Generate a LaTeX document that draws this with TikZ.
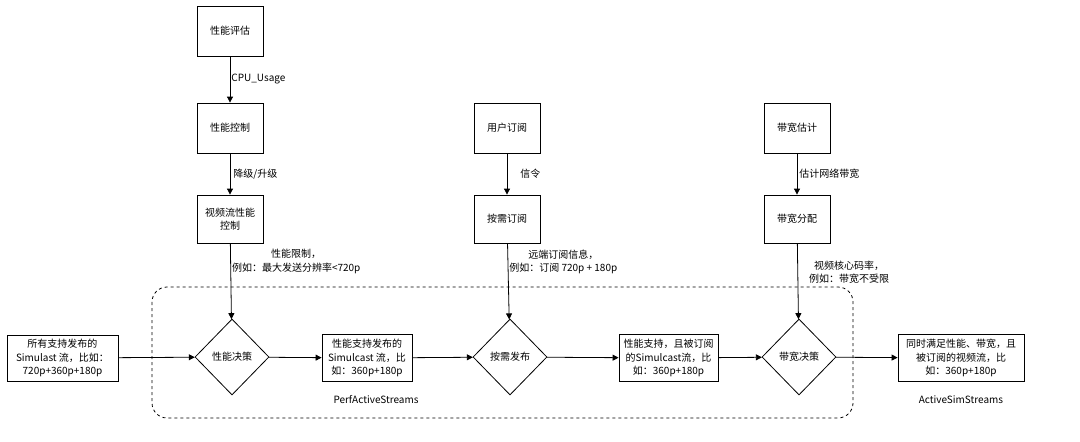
\documentclass[tikz,border=0pt]{standalone}
\usepackage{fontspec}
\setmainfont{Noto Sans CJK SC}
\usetikzlibrary{shapes.geometric,arrows.meta}
\begin{document}
\begin{tikzpicture}[x=1pt,y=-1pt,
  every node/.style={font=\fontsize{10}{13.5}\selectfont},
  box/.style={draw,thick,minimum width=66pt,minimum height=50pt,inner sep=1pt,align=center},
  wbox/.style={draw,thick,inner sep=1pt,align=center},
  dia/.style={draw,thick,diamond,minimum width=74pt,minimum height=76pt,inner sep=0pt,aspect=1},
  arr/.style={thick,-{Triangle[length=6pt,width=6pt]}},
  lbl/.style={fill=white,inner sep=1pt,align=center}]
\useasboundingbox (0,0) rectangle (1080,442);
\draw[thick,dashed,rounded corners=15pt] (152,287) rectangle (853,418);
\node[box] (pe) at (230,31) {性能评估};
\node[box] (pc) at (230,128) {性能控制};
\node[box,minimum height=48pt] (vc) at (230,219) {视频流性能\\控制};
\node[box] (us) at (507,128) {用户订阅};
\node[box,minimum height=48pt] (od) at (507,219) {按需订阅};
\node[box] (be) at (797,128) {带宽估计};
\node[box,minimum height=48pt] (ba) at (797,219) {带宽分配};
\node[dia] (d1) at (232,357) {性能决策};
\node[dia] (d2) at (510,357) {按需发布};
\node[dia] (d3) at (799,357) {带宽决策};
\node[wbox,minimum width=111pt,minimum height=46pt] (s0) at (62.5,358) {所有支持发布的\\Simulast 流，比如：\\720p+360p+180p};
\node[wbox,minimum width=90pt,minimum height=47pt] (s1) at (367,358) {性能支持发布的\\Simulcast 流，比\\如：360p+180p};
\node[wbox,minimum width=99pt,minimum height=47pt] (s2) at (668.5,358) {性能支持，且被订阅\\的Simulcast流，比\\如：360p+180p};
\node[wbox,minimum width=126pt,minimum height=47pt] (s3) at (961,358) {同时满足性能、带宽，且\\被订阅的视频流，比\\如：360p+180p};
\node at (376,400) {PerfActiveStreams};
\node at (961,400) {ActiveSimStreams};
\draw[arr] (pe) -- node[lbl,anchor=west,fill=none]{CPU\_Usage} (pc);
\draw[arr] (pc) -- node[lbl,anchor=west,xshift=2pt]{降级/升级} (vc);
\draw[arr] (vc) -- node[lbl,pos=0.24,anchor=west,fill=none]{性能限制，\\例如：最大发送分辨率<720p} (d1);
\draw[arr] (us) -- node[lbl,anchor=west,xshift=12pt]{信令} (od);
\draw[arr] (od) -- node[lbl,pos=0.24,anchor=west,fill=none]{远端订阅信息，\\例如：订阅 720p + 180p} (d2);
\draw[arr] (be) -- node[lbl,anchor=west,xshift=1pt]{估计网络带宽} (ba);
\draw[arr] (ba) -- node[lbl,pos=0.38,anchor=west,xshift=10pt,fill=none]{视频核心码率，\\例如：带宽不受限} (d3);
\draw[arr] (s0) -- (d1);
\draw[arr] (d1) -- (s1);
\draw[arr] (s1) -- (d2);
\draw[arr] (d2) -- (s2);
\draw[arr] (s2) -- (d3);
\draw[arr] (d3) -- (s3);
\end{tikzpicture}
\end{document}
